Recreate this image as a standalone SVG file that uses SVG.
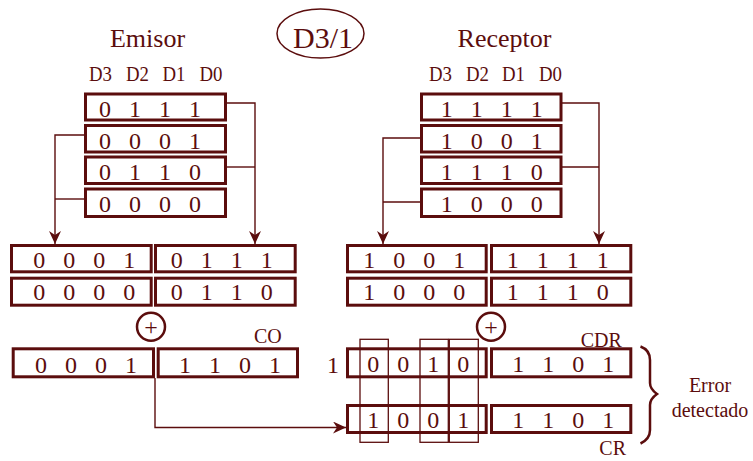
<svg xmlns="http://www.w3.org/2000/svg" width="753" height="461" viewBox="0 0 753 461">
  <style>
    .t { font-family: "Liberation Serif", "Times New Roman", serif; fill: #5b0d0d; }
    .d { font-size: 24px; text-anchor: middle; }
    .lbl { font-size: 21px; }
    .ttl { font-size: 26px; text-anchor: middle; }
    .sm { font-size: 20px; }
    .reg { fill: #fff; stroke: #5b0d0d; stroke-width: 3; }
    .thin { fill: none; stroke: #5b0d0d; stroke-width: 1.3; }
    .wire { fill: none; stroke: #5b0d0d; stroke-width: 1.4; }
    .xor { fill: #fff; stroke: #5b0d0d; stroke-width: 2.5; }
  </style>
  <defs>
    <marker id="arr" markerUnits="userSpaceOnUse" markerWidth="14" markerHeight="12" refX="13" refY="6" orient="auto">
      <path d="M0,0 L13,6 L0,12 L4,6 z" fill="#5b0d0d"/>
    </marker>
  </defs>
  <rect width="753" height="461" fill="#fff"/>

  <!-- title -->
  <g id="title">
    <ellipse cx="320.5" cy="33.5" rx="43.5" ry="24.5" fill="none" stroke="#5b0d0d" stroke-width="1.5"/>
    <text class="t" x="323" y="48" font-size="30" text-anchor="middle">D3/1</text>
  </g>

  <!-- connectors -->
  <g id="connectors">
    <path class="wire" d="M223,103 H255 V244" marker-end="url(#arr)"/>
    <path class="wire" d="M223,167 H255"/>
    <path class="wire" d="M87,135 H55 V244" marker-end="url(#arr)"/>
    <path class="wire" d="M87,199 H55"/>
    <path class="wire" d="M560,103 H599 V244" marker-end="url(#arr)"/>
    <path class="wire" d="M560,167 H599"/>
    <path class="wire" d="M423,138 H383 V244" marker-end="url(#arr)"/>
    <path class="wire" d="M423,202 H383"/>
    <path class="wire" d="M155,378 V427.5 H346" marker-end="url(#arr)"/>
  </g>

  <!-- emisor memory -->
  <g id="emisor">
    <text class="t ttl" x="147.5" y="46.5">Emisor</text>
    <text class="t lbl" x="89" y="81" textLength="23" lengthAdjust="spacingAndGlyphs">D3</text>
    <text class="t lbl" x="126" y="81" textLength="23" lengthAdjust="spacingAndGlyphs">D2</text>
    <text class="t lbl" x="162.5" y="81" textLength="23" lengthAdjust="spacingAndGlyphs">D1</text>
    <text class="t lbl" x="199.5" y="81" textLength="23" lengthAdjust="spacingAndGlyphs">D0</text>
    <rect class="reg" x="85.5" y="94" width="140" height="26"/>
    <rect class="reg" x="85.5" y="125.5" width="140" height="26.5"/>
    <rect class="reg" x="85.5" y="157" width="140" height="26.5"/>
    <rect class="reg" x="85.5" y="189" width="140" height="27.5"/>
    <g class="t d">
      <text x="105" y="117">0</text><text x="135" y="117">1</text><text x="165" y="117">1</text><text x="195" y="117">1</text>
      <text x="105" y="148.5">0</text><text x="135" y="148.5">0</text><text x="165" y="148.5">0</text><text x="195" y="148.5">1</text>
      <text x="105" y="180">0</text><text x="135" y="180">1</text><text x="165" y="180">1</text><text x="195" y="180">0</text>
      <text x="105" y="211.5">0</text><text x="135" y="211.5">0</text><text x="165" y="211.5">0</text><text x="195" y="211.5">0</text>
    </g>
  </g>

  <!-- receptor memory -->
  <g id="receptor">
    <text class="t ttl" x="504.5" y="46.5">Receptor</text>
    <text class="t lbl" x="429" y="81" textLength="23" lengthAdjust="spacingAndGlyphs">D3</text>
    <text class="t lbl" x="466" y="81" textLength="23" lengthAdjust="spacingAndGlyphs">D2</text>
    <text class="t lbl" x="502" y="81" textLength="23" lengthAdjust="spacingAndGlyphs">D1</text>
    <text class="t lbl" x="539" y="81" textLength="23" lengthAdjust="spacingAndGlyphs">D0</text>
    <rect class="reg" x="421.5" y="94" width="139.5" height="26"/>
    <rect class="reg" x="421.5" y="125.5" width="139.5" height="26.5"/>
    <rect class="reg" x="421.5" y="157" width="139.5" height="26.5"/>
    <rect class="reg" x="421.5" y="189" width="139.5" height="27.5"/>
    <g class="t d">
      <text x="446.7" y="117">1</text><text x="476.7" y="117">1</text><text x="506.7" y="117">1</text><text x="536.7" y="117">1</text>
      <text x="446.7" y="148.5">1</text><text x="476.7" y="148.5">0</text><text x="506.7" y="148.5">0</text><text x="536.7" y="148.5">1</text>
      <text x="446.7" y="180">1</text><text x="476.7" y="180">1</text><text x="506.7" y="180">1</text><text x="536.7" y="180">0</text>
      <text x="446.7" y="211.5">1</text><text x="476.7" y="211.5">0</text><text x="506.7" y="211.5">0</text><text x="536.7" y="211.5">0</text>
    </g>
  </g>

  <!-- emisor words -->
  <g id="emisor-words">
    <rect class="reg" x="11.5" y="245.5" width="139.7" height="26.3"/>
    <rect class="reg" x="155.5" y="245.5" width="139.7" height="26.3"/>
    <rect class="reg" x="11.5" y="278.2" width="139.7" height="27"/>
    <rect class="reg" x="155.5" y="278.2" width="139.7" height="27"/>
    <g class="t d">
      <text x="39.3" y="268.3">0</text><text x="69.3" y="268.3">0</text><text x="99.3" y="268.3">0</text><text x="129.3" y="268.3">1</text>
      <text x="176.7" y="268.3">0</text><text x="206.7" y="268.3">1</text><text x="236.7" y="268.3">1</text><text x="266.7" y="268.3">1</text>
      <text x="39.3" y="300">0</text><text x="69.3" y="300">0</text><text x="99.3" y="300">0</text><text x="129.3" y="300">0</text>
      <text x="176.7" y="300">0</text><text x="206.7" y="300">1</text><text x="236.7" y="300">1</text><text x="266.7" y="300">0</text>
    </g>
  </g>

  <!-- receptor words -->
  <g id="receptor-words">
    <rect class="reg" x="347.5" y="245.5" width="138.7" height="26.3"/>
    <rect class="reg" x="491.5" y="245.5" width="139.3" height="26.3"/>
    <rect class="reg" x="347.5" y="278.2" width="138.7" height="27"/>
    <rect class="reg" x="491.5" y="278.2" width="139.3" height="27"/>
    <g class="t d">
      <text x="369.3" y="268.3">1</text><text x="399.3" y="268.3">0</text><text x="429.3" y="268.3">0</text><text x="459.3" y="268.3">1</text>
      <text x="512.7" y="268.3">1</text><text x="542.7" y="268.3">1</text><text x="572.7" y="268.3">1</text><text x="602.7" y="268.3">1</text>
      <text x="369.3" y="300">1</text><text x="399.3" y="300">0</text><text x="429.3" y="300">0</text><text x="459.3" y="300">0</text>
      <text x="512.7" y="300">1</text><text x="542.7" y="300">1</text><text x="572.7" y="300">1</text><text x="602.7" y="300">0</text>
    </g>
  </g>

  <!-- xor operators -->
  <g id="xor-emisor">
    <circle class="xor" cx="151" cy="326.7" r="14"/>
    <text class="t" x="151" y="334.5" font-size="24" text-anchor="middle">+</text>
  </g>
  <g id="xor-receptor">
    <circle class="xor" cx="491" cy="326.7" r="14"/>
    <text class="t" x="491" y="334.5" font-size="24" text-anchor="middle">+</text>
  </g>

  <!-- emisor checksum -->
  <g id="co">
    <text class="t sm" x="254" y="343">CO</text>
    <rect class="reg" x="13.2" y="348.8" width="140.3" height="28"/>
    <rect class="reg" x="158.2" y="348.8" width="139.3" height="28"/>
    <g class="t d">
      <text x="41" y="372.7">0</text><text x="71" y="372.7">0</text><text x="101" y="372.7">0</text><text x="131" y="372.7">1</text>
      <text x="185" y="372.7">1</text><text x="215" y="372.7">1</text><text x="245" y="372.7">0</text><text x="275" y="372.7">1</text>
    </g>
  </g>

  <!-- receptor computed checksum -->
  <g id="cdr">
    <text class="t d" x="333" y="372.7">1</text>
    <text class="t sm" x="580.7" y="346.7">CDR</text>
    <rect class="reg" x="347.5" y="348.8" width="138.7" height="28"/>
    <rect class="reg" x="491.5" y="348.8" width="139.3" height="28"/>
    <g class="t d">
      <text x="373.3" y="371.7">0</text><text x="403.3" y="371.7">0</text><text x="433.3" y="371.7">1</text><text x="463.3" y="371.7">0</text>
      <text x="518.3" y="371.7">1</text><text x="548.3" y="371.7">1</text><text x="578.3" y="371.7">0</text><text x="608.3" y="371.7">1</text>
    </g>
  </g>

  <!-- received checksum -->
  <g id="cr">
    <rect class="reg" x="347.5" y="405.5" width="138.7" height="27"/>
    <rect class="reg" x="491.5" y="405.5" width="139.3" height="27"/>
    <g class="t d">
      <text x="373.3" y="428.3">1</text><text x="403.3" y="428.3">0</text><text x="433.3" y="428.3">0</text><text x="463.3" y="428.3">1</text>
      <text x="518.3" y="428.3">1</text><text x="548.3" y="428.3">1</text><text x="578.3" y="428.3">0</text><text x="608.3" y="428.3">1</text>
    </g>
    <text class="t sm" x="599.3" y="455">CR</text>
  </g>

  <!-- mismatching bit columns -->
  <g id="columns">
    <rect class="thin" x="360" y="339.3" width="28.3" height="103"/>
    <rect class="thin" x="420" y="339.3" width="28.3" height="103"/>
    <rect class="thin" x="449.3" y="339.3" width="29" height="103"/>
  </g>

  <!-- error brace -->
  <g id="error">
    <path d="M640.5,346.5 Q650,350 650,360 V383 Q650,389 657,394 Q650,399 650,405 V430 Q650,439 640.5,443.5" fill="none" stroke="#5b0d0d" stroke-width="2.5"/>
    <text class="t sm" x="710" y="391.7" text-anchor="middle">Error</text>
    <text class="t sm" x="710" y="416.7" text-anchor="middle">detectado</text>
  </g>
</svg>
